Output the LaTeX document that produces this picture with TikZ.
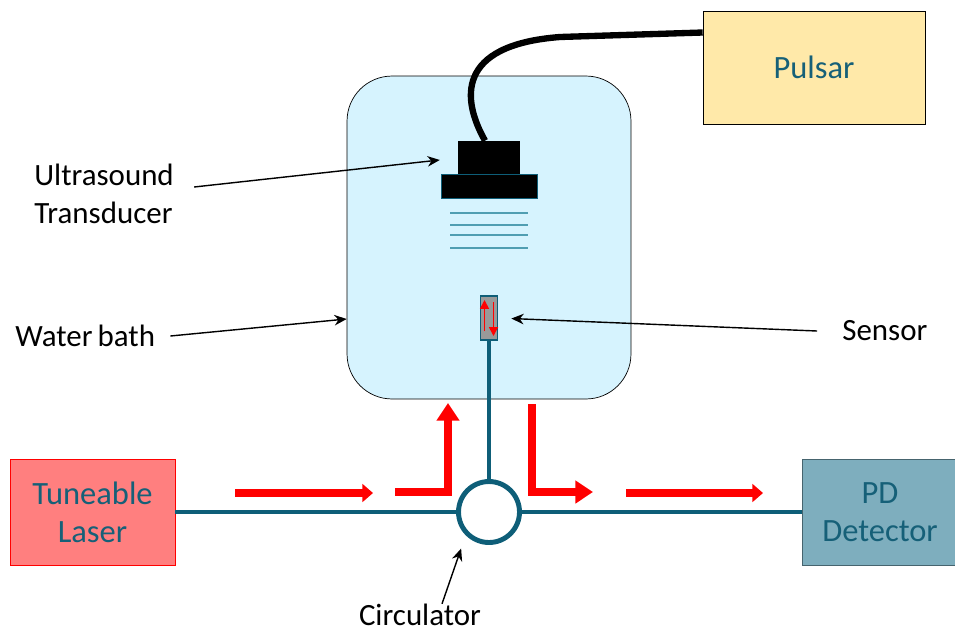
\documentclass[tikz,border=0pt]{standalone}
\usepackage{fontspec}
\setmainfont{Carlito}
\usetikzlibrary{arrows.meta, positioning, calc}
\definecolor{bathfill}{RGB}{214,243,254}
\definecolor{pulsarfill}{RGB}{255,233,169}
\definecolor{laserfill}{RGB}{255,127,127}
\definecolor{pdfill}{RGB}{126,174,190}
\definecolor{pdline}{RGB}{70,100,110}
\definecolor{fibre}{RGB}{14,94,120}
\definecolor{boxtext}{RGB}{22,96,120}
\definecolor{wave}{RGB}{80,158,178}

\begin{document}
\begin{tikzpicture}[x=0.02cm, y=-0.02cm,
    box/.style={draw, align=center, text=boxtext, font=\fontsize{18.5}{21.5}\selectfont, inner sep=0pt},
    lbl/.style={inner sep=0pt, align=left, font=\fontsize{17.6}{21.5}\selectfont},
    pointer/.style={-{Stealth[length=7pt, width=6pt]}, line width=0.8pt},
    fibreline/.style={draw=fibre, line width=2.8pt},
    flow/.style={red, line width=4.5pt, -{Triangle[length=6pt, width=10pt]}},
    bigflow/.style={red, line width=4.5pt, -{Triangle[length=10pt, width=12.5pt]}}]
    \useasboundingbox (0,0) rectangle (955,632);

    % instruments
    \node[box, fill=pulsarfill, minimum width=4.44cm, minimum height=2.26cm] (pulsar) at (814,67.5) {Pulsar};
    \node[box, draw=red, fill=laserfill, minimum width=3.3cm, minimum height=2.12cm] (laser) at (92.5,512) {Tuneable\\Laser};
    \node[box, draw=pdline, fill=pdfill, minimum width=3.12cm, minimum height=2.12cm] (pd) at (880,512) {PD\\Detector};

    % water bath with transducer and sensor
    \node[draw, fill=bathfill, rounded corners=0.9cm, minimum width=5.68cm, minimum height=6.46cm] (bath) at (489,237.5) {};
    \node[fill=black, inner sep=0pt, minimum width=1.24cm, minimum height=0.68cm] (head) at (489,158) {};
    \node[draw=fibre, fill=black, inner sep=0pt, minimum width=1.92cm, minimum height=0.48cm] (face) at (489,186) {};
    \foreach \y in {213,225,235,248}
        \draw[wave, line width=1pt] (450,\y) -- (528,\y);
    \node[draw=fibre, fill=gray!80, line width=1pt, inner sep=0pt, minimum width=0.34cm, minimum height=0.88cm] (sensor) at (489,318) {};
    \draw[red, line width=1pt, -{Triangle[length=5pt, width=5pt]}] (484.5,331) -- (484.5,300);
    \draw[red, line width=1pt, -{Triangle[length=5pt, width=5pt]}] (493.5,302) -- (493.5,336);

    % cable to the pulsar
    \draw[line width=3.6pt] ([xshift=-0.08cm]head.north) .. controls (462,100) and (455,45) .. (560,37) -- ([yshift=0.7cm]pulsar.west);

    % fibre and circulator
    \node[circle, draw=fibre, fill=white, line width=2.8pt, inner sep=0pt, minimum size=1.22cm] (circ) at (489,512) {};
    \draw[fibreline] (sensor.south) -- (circ.north);
    \draw[fibreline] (laser.east) -- (circ.west);
    \draw[fibreline] (circ.east) -- (pd.west);

    % light path
    \coordinate (in1) at (235,493);
    \coordinate (in2) at (373,493);
    \coordinate (out1) at (626,493);
    \coordinate (out2) at (763,493);
    \draw[flow] (in1) -- (in2);
    \draw[flow] (out1) -- (out2);
    \draw[bigflow] (395,492) -- (448,492) -- (448,403);
    \draw[bigflow] (532,404) -- (532,492) -- (593,492);

    % labels
    \node[lbl, anchor=west] (ustlabel) at (34,194) {Ultrasound\\Transducer};
    \node[lbl, anchor=west] (bathlabel) at (15,336) {Water\,bath};
    \node[lbl, anchor=west] (sensorlabel) at (842,331) {Sensor};
    \node[lbl] (circlabel) at (420,615) {Circulator};

    \draw[pointer, shorten >=0.36cm] ([shift={(0.4cm,0.14cm)}]ustlabel.east) -- (head.west);
    \draw[pointer] ([shift={(0.3cm,0cm)}]bathlabel.east) -- ([yshift=-1.63cm]bath.west);
    \draw[pointer, shorten >=0.26cm] ([xshift=-0.5cm]sensorlabel.west) -- (sensor.east);
    \draw[pointer, shorten >=0.28cm] ([xshift=0.44cm]circlabel.north) -- (circ.south west);
\end{tikzpicture}
\end{document}
